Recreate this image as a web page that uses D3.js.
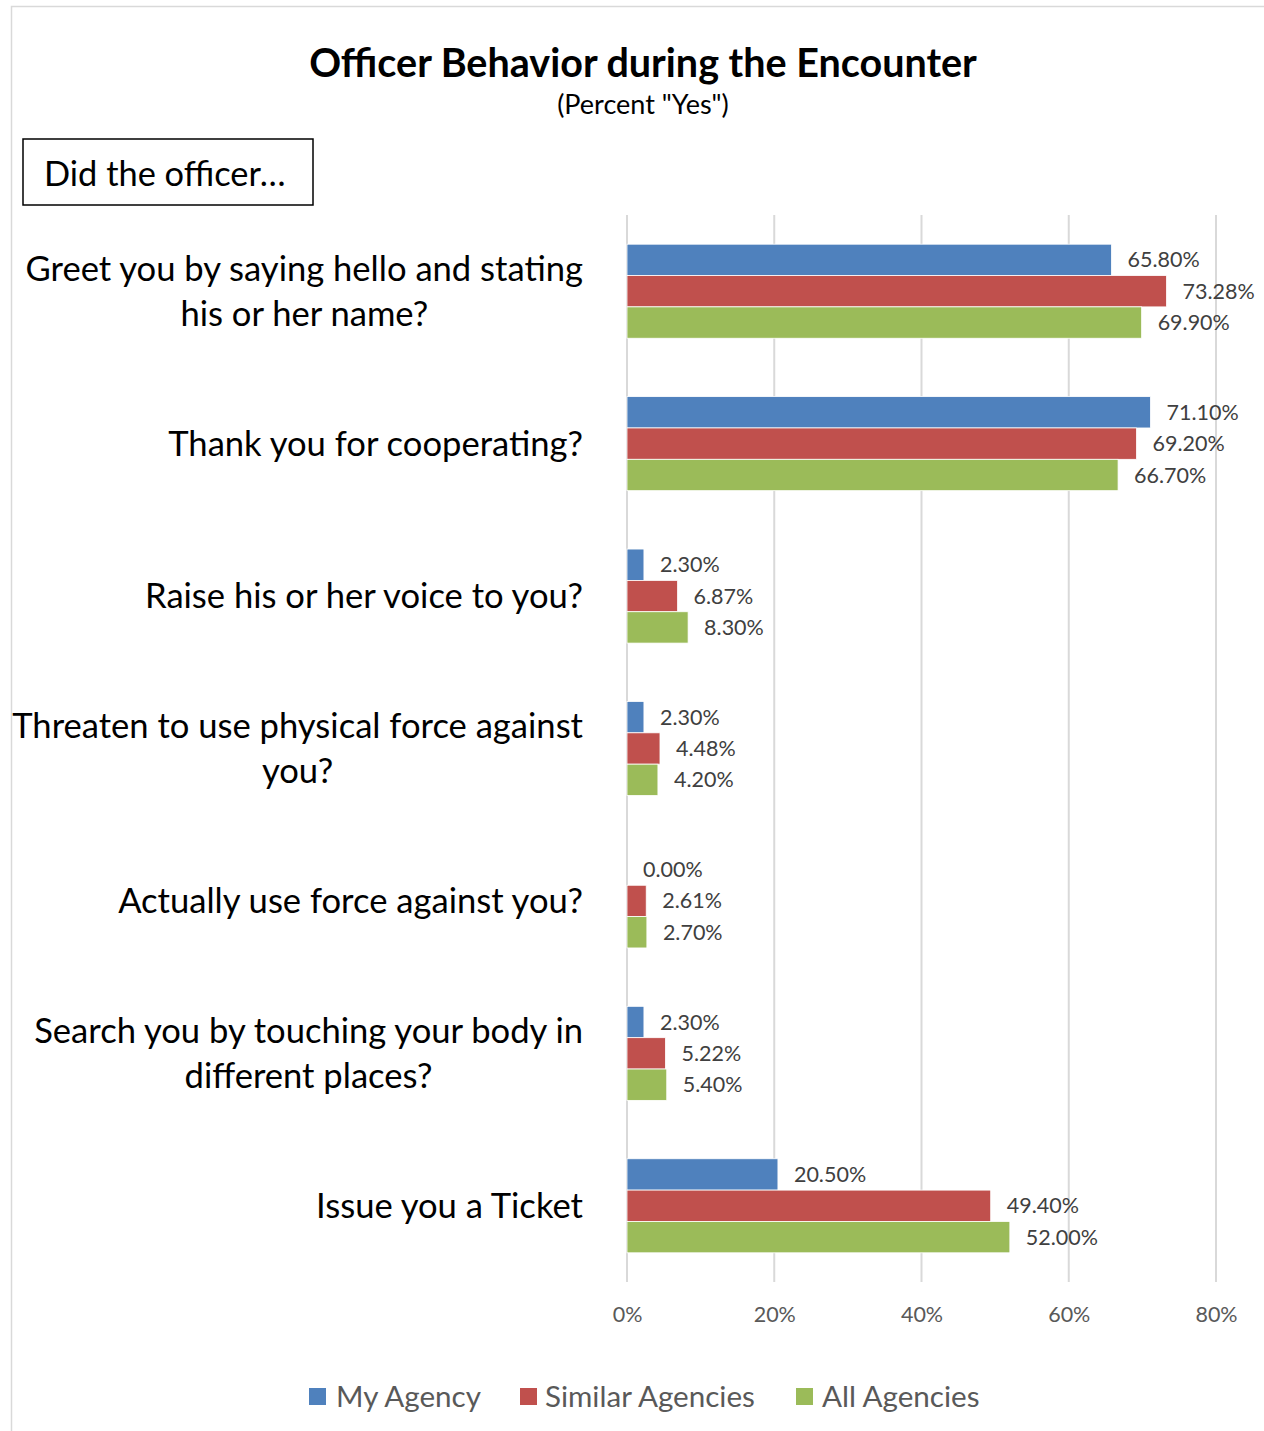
<!DOCTYPE html>
<html>
<head>
<meta charset="utf-8">
<script src="https://cdn.jsdelivr.net/npm/d3@7"></script>
<style>
  html, body { margin: 0; padding: 0; background: #fff; }
  svg { display: block; font-family: Lato, "Open Sans", sans-serif; }
</style>
</head>
<body>
<svg id="chart" width="1264" height="1431"></svg>
<script>
// Survey questions (wrapped as drawn)
const categories = [
  ["Greet you by saying hello and stating", "his or her name?"],
  ["Thank you for cooperating?"],
  ["Raise his or her voice to you?"],
  ["Threaten to use physical force against", "you?"],
  ["Actually use force against you?"],
  ["Search you by touching your body in", "different places?"],
  ["Issue you a Ticket"]
];
const seriesNames = ["My Agency", "Similar Agencies", "All Agencies"];
const seriesColors = ["#4F81BD", "#C0504D", "#9BBB59"];
const myAgency        = [65.80, 71.10, 2.30, 2.30, 0.00, 2.30, 20.50];
const similarAgencies = [73.28, 69.20, 6.87, 4.48, 2.61, 5.22, 49.40];
const allAgencies     = [69.90, 66.70, 8.30, 4.20, 2.70, 5.40, 52.00];
const tickValues = [0, 20, 40, 60, 80];

const series = [myAgency, similarAgencies, allAgencies];
const svg = d3.select("#chart");

// outer frame
svg.append("rect").attr("x", 11.5).attr("y", 6.5).attr("width", 1270).attr("height", 1440)
  .attr("fill", "none").attr("stroke", "#d9d9d9").attr("stroke-width", 1.5);

// title
svg.append("text").attr("x", 643).attr("y", 77).attr("text-anchor", "middle")
  .attr("font-size", 39.5).attr("font-weight", "bold").attr("fill", "#000")
  .text("Officer Behavior during the Encounter");
svg.append("text").attr("x", 643).attr("y", 114).attr("text-anchor", "middle")
  .attr("font-size", 27).attr("fill", "#000")
  .text('(Percent "Yes")');

// "Did the officer…" box
svg.append("rect").attr("x", 23).attr("y", 139).attr("width", 290).attr("height", 66)
  .attr("fill", "#fff").attr("stroke", "#000").attr("stroke-width", 1.5);
svg.append("text").attr("x", 44).attr("y", 186).attr("font-size", 34.4).attr("fill", "#000")
  .text("Did the officer…");

const x = d3.scaleLinear().domain([0, 80]).range([627, 1216]);
const y = d3.scaleBand().domain(d3.range(categories.length)).range([215, 1282])
  .paddingInner(0.383).paddingOuter(0.1915);
const ySub = d3.scaleBand().domain(d3.range(series.length)).range([0, y.bandwidth()]);

// gridlines
svg.append("g").selectAll("line").data(tickValues).join("line")
  .attr("x1", d => x(d)).attr("x2", d => x(d))
  .attr("y1", 215).attr("y2", 1282)
  .attr("stroke", "#d9d9d9").attr("stroke-width", 2);

// x-axis tick labels
const xAxis = d3.axisBottom(x).tickValues(tickValues).tickSize(0).tickPadding(0)
  .tickFormat(d => d + "%");
const gx = svg.append("g").attr("transform", "translate(0,1314)").call(xAxis);
gx.select(".domain").remove();
gx.selectAll("text").attr("font-size", 21.5).attr("fill", "#595959")
  .attr("font-family", "Lato, 'Open Sans', sans-serif").attr("dy", "0.35em");

// bars with value labels
const groups = svg.append("g").selectAll("g").data(categories).join("g")
  .attr("transform", (d, i) => `translate(0,${y(i)})`);
groups.each(function(_, ci) {
  const g = d3.select(this);
  series.forEach((s, si) => {
    const v = s[ci];
    g.append("rect")
      .attr("x", x(0)).attr("y", ySub(si))
      .attr("width", x(v) - x(0)).attr("height", ySub.bandwidth())
      .attr("fill", seriesColors[si])
      .attr("stroke", v > 0 ? "#fff" : "none").attr("stroke-width", 0.8);
    g.append("text")
      .attr("x", x(v) + 16).attr("y", ySub(si) + ySub.bandwidth() / 2)
      .attr("dy", "0.35em").attr("font-size", 21.5).attr("fill", "#404040")
      .text(v.toFixed(2) + "%");
  });
});

// category labels: each block right-aligned at 583, lines centred within block
const labelRight = 583, lineH = 45;
categories.forEach((lines, ci) => {
  const cy = y(ci) + y.bandwidth() / 2;
  const g = svg.append("g");
  const texts = lines.map((t, li) => g.append("text").attr("font-size", 34.6).attr("fill", "#000")
    .attr("text-anchor", "middle")
    .attr("y", cy + (li - (lines.length - 1) / 2) * lineH).attr("dy", "0.35em").text(t));
  const w = d3.max(texts, t => t.node().getComputedTextLength());
  texts.forEach(t => t.attr("x", labelRight - w / 2));
});

// legend
const legendItems = [{ sx: 309, tx: 336 }, { sx: 520, tx: 545 }, { sx: 796, tx: 822 }];
const lg = svg.append("g");
seriesNames.forEach((name, i) => {
  lg.append("rect").attr("x", legendItems[i].sx).attr("y", 1388).attr("width", 17).attr("height", 17)
    .attr("fill", seriesColors[i]);
  lg.append("text").attr("x", legendItems[i].tx).attr("y", 1397).attr("dy", "0.35em")
    .attr("font-size", 29.6).attr("fill", "#595959").text(name);
});
</script>
</body>
</html>
